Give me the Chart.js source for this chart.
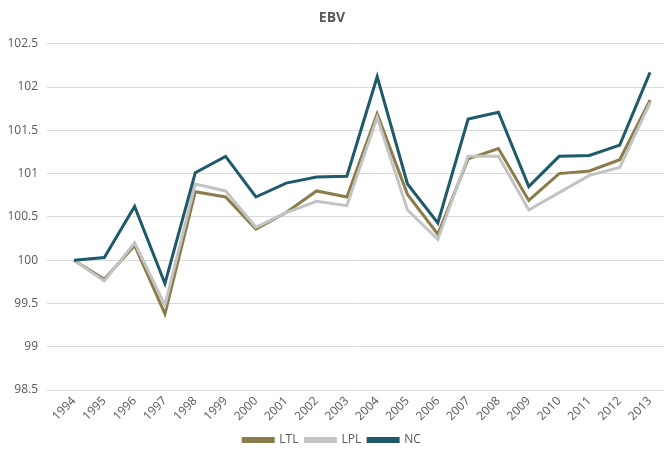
<!DOCTYPE html>
<html>
<head>
<meta charset="utf-8">
<script src="https://cdn.jsdelivr.net/npm/chart.js@4.4.1/dist/chart.umd.min.js"></script>
<style>
  html, body { margin: 0; padding: 0; background: #fff; }
  #wrap { width: 664px; height: 462px; }
</style>
</head>
<body>
<div id="wrap"><canvas id="ebv"></canvas></div>
<script>
// ── data ────────────────────────────────────────────────────────────────────
const years = ["1994", "1995", "1996", "1997", "1998", "1999", "2000", "2001", "2002", "2003",
               "2004", "2005", "2006", "2007", "2008", "2009", "2010", "2011", "2012", "2013"];

const ltl = [100, 99.78, 100.17, 99.38, 100.79, 100.73, 100.36, 100.55, 100.80, 100.73,
             101.69, 100.76, 100.30, 101.17, 101.29, 100.69, 101.00, 101.03, 101.16, 101.85];
const lpl = [100, 99.76, 100.20, 99.48, 100.88, 100.80, 100.38, 100.55, 100.68, 100.63,
             101.65, 100.58, 100.24, 101.20, 101.20, 100.58, 100.78, 100.98, 101.07, 101.82];
const nc  = [100, 100.03, 100.62, 99.73, 101.01, 101.20, 100.73, 100.89, 100.96, 100.97,
             102.12, 100.88, 100.43, 101.63, 101.71, 100.85, 101.20, 101.21, 101.33, 102.17];

const yTicks = [98.5, 99, 99.5, 100, 100.5, 101, 101.5, 102, 102.5];

const TEXT = "#595959";
const FONT = "'Open Sans', sans-serif";

function series(label, values, color, order) {
  return {
    label,
    data: values.map((v, i) => ({ x: i, y: v })),
    borderColor: color,
    backgroundColor: color,
    borderWidth: 3,
    pointRadius: 0,
    tension: 0,
    fill: false,
    order
  };
}

new Chart(document.getElementById("ebv"), {
  type: "line",
  data: {
    datasets: [
      series("LTL", ltl, "#8a7c4b", 3),
      series("LPL", lpl, "#c3c3c3", 2),
      series("NC",  nc,  "#1e5a69", 1)
    ]
  },
  options: {
    responsive: true,
    maintainAspectRatio: false,
    animation: false,
    layout: { padding: { left: 0, right: 0, top: 0, bottom: 6 } },
    plugins: {
      title: {
        display: true,
        text: "EBV",
        color: TEXT,
        font: { family: FONT, size: 14, weight: "bold" },
        padding: { top: 10, bottom: 17 }
      },
      legend: {
        position: "bottom",
        labels: {
          color: TEXT,
          font: { family: FONT, size: 12 },
          boxWidth: 30,
          boxHeight: 3,
          padding: 7,
          sort: (a, b) => a.datasetIndex - b.datasetIndex
        }
      },
      tooltip: { enabled: false }
    },
    scales: {
      x: {
        type: "linear",
        min: -0.89,
        max: 19.46,
        afterBuildTicks: s => { s.ticks = years.map((_, i) => ({ value: i })); },
        afterFit: s => { s.height = 37; },
        ticks: {
          color: TEXT,
          font: { family: FONT, size: 12 },
          minRotation: 45,
          maxRotation: 45,
          padding: -4,
          callback: v => years[v] ?? ""
        },
        grid: { display: false },
        border: { display: false }
      },
      y: {
        min: 98.5,
        max: 102.5,
        afterBuildTicks: s => { s.ticks = yTicks.map(v => ({ value: v })); },
        afterFit: s => { s.width = 47; },
        ticks: {
          color: TEXT,
          font: { family: FONT, size: 12 },
          padding: 9,
          callback: v => String(v)
        },
        grid: { color: "#d9d9d9", lineWidth: 1, drawTicks: false },
        border: { display: false }
      }
    }
  }
});
</script>
</body>
</html>
